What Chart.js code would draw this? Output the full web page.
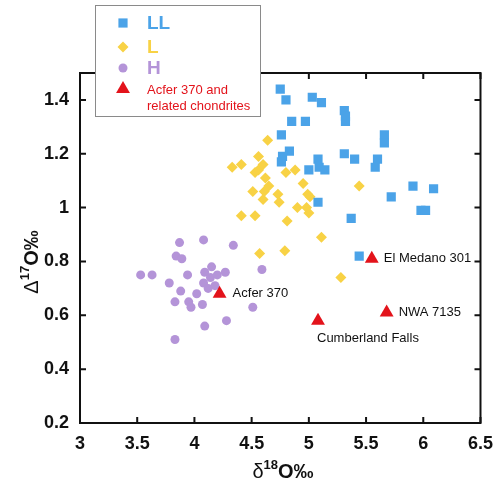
<!DOCTYPE html>
<html><head><meta charset="utf-8">
<script src="https://cdn.jsdelivr.net/npm/chart.js@4.4.0/dist/chart.umd.min.js"></script>
<style>html,body{margin:0;padding:0;background:#fff;}#wrap{width:503px;height:485px;position:relative;}</style>
</head><body><div id="wrap"><canvas id="c"></canvas></div>
<script>
// ---- data ----
const llX = [4.75,4.80,5.03,5.11,5.31,5.32,5.32,4.85,4.97,4.76,5.66,5.66,4.83,4.77,4.76,5.08,5.09,5.14,5.31,5.40,5.60,5.58,5.00,5.08,5.72,5.91,6.09,5.98,6.02,5.37,5.44];
const llY = [1.44,1.40,1.41,1.39,1.36,1.34,1.32,1.32,1.32,1.27,1.27,1.24,1.21,1.19,1.17,1.18,1.15,1.14,1.20,1.18,1.18,1.15,1.14,1.02,1.04,1.08,1.07,0.99,0.99,0.96,0.82];
const lX = [4.64,4.56,4.33,4.41,4.53,4.56,4.60,4.62,4.65,4.51,4.61,4.60,4.73,4.74,4.80,4.88,4.95,4.99,5.01,4.90,4.98,5.00,4.41,4.53,4.81,5.44,5.11,4.57,4.79,5.28];
const lY = [1.25,1.19,1.15,1.16,1.13,1.14,1.16,1.11,1.08,1.06,1.06,1.03,1.05,1.02,1.13,1.14,1.09,1.05,1.04,1.00,1.00,0.98,0.97,0.97,0.95,1.08,0.89,0.83,0.84,0.74];
const hX = [3.87,4.08,4.34,3.84,3.89,3.53,3.63,3.94,4.15,4.09,4.14,4.20,4.27,4.59,3.78,4.08,4.12,4.18,3.88,4.02,3.83,3.95,3.97,4.07,4.51,4.28,4.09,3.83];
const hY = [0.87,0.88,0.86,0.82,0.81,0.75,0.75,0.75,0.78,0.76,0.74,0.75,0.76,0.77,0.72,0.72,0.70,0.71,0.69,0.68,0.65,0.65,0.63,0.64,0.63,0.58,0.56,0.51];
const aX = [4.22,5.55,5.68,5.08];
const aY = [0.68,0.81,0.61,0.58];
const aNames = ['Acfer 370','El Medano 301','NWA 7135','Cumberland Falls'];
const seriesNames = ['LL','L','H','Acfer 370 and\nrelated chondrites'];
const xTicks = [3,3.5,4,4.5,5,5.5,6,6.5];
const xTickLabels = ['3','3.5','4','4.5','5','5.5','6','6.5'];
const yTicks = [0.2,0.4,0.6,0.8,1,1.2,1.4];
const yTickLabels = ['0.2','0.4','0.6','0.8','1','1.2','1.4'];
const xMin = 3, xMax = 6.5, yMin = 0.2, yMax = 1.5;

// ---- styles ----
const C_LL = '#4BA3E8', C_L = '#F8D245', C_H = '#B494D8', C_A = '#E3131B';
const FONT = '"Liberation Sans", Arial, sans-serif';
const pts = (xs, ys) => xs.map((x, i) => ({x: x, y: ys[i]}));

function drawMarker(ctx, style, x, y, r, color) {
  ctx.save();
  ctx.fillStyle = color;
  ctx.beginPath();
  if (style === 'rect') {
    const s = r * Math.SQRT1_2;
    ctx.rect(x - s, y - s, 2 * s, 2 * s);
  } else if (style === 'rectRot') {
    ctx.moveTo(x, y - r); ctx.lineTo(x + r, y); ctx.lineTo(x, y + r); ctx.lineTo(x - r, y); ctx.closePath();
  } else if (style === 'circle') {
    ctx.arc(x, y, r, 0, Math.PI * 2);
  } else if (style === 'triangle') {
    ctx.moveTo(x, y - r); ctx.lineTo(x + r * 0.866, y + r * 0.5); ctx.lineTo(x - r * 0.866, y + r * 0.5); ctx.closePath();
  }
  ctx.fill();
  ctx.restore();
}

function richText(ctx, segs, cx, cy) {
  let w = 0;
  segs.forEach(s => { ctx.font = s.f; s.w = ctx.measureText(s.t).width; w += s.w; });
  let x = cx - w / 2;
  ctx.textBaseline = 'alphabetic';
  ctx.textAlign = 'left';
  segs.forEach(s => { ctx.font = s.f; ctx.fillText(s.t, x, cy + (s.dy || 0)); x += s.w; });
}

const deco = {
  id: 'deco',
  afterDraw(chart) {
    const ctx = chart.ctx, a = chart.chartArea;
    const xs = chart.scales.x, ys = chart.scales.y;
    ctx.save();
    // frame
    ctx.strokeStyle = '#111'; ctx.lineWidth = 2;
    ctx.strokeRect(a.left, a.top, a.right - a.left, a.bottom - a.top);
    // inward ticks
    ctx.lineWidth = 2;
    ctx.beginPath();
    const tl = 6;
    xTicks.forEach(v => {
      const px = xs.getPixelForValue(v);
      ctx.moveTo(px, a.bottom); ctx.lineTo(px, a.bottom - tl);
      ctx.moveTo(px, a.top); ctx.lineTo(px, a.top + tl);
    });
    yTicks.forEach(v => {
      const py = ys.getPixelForValue(v);
      ctx.moveTo(a.left, py); ctx.lineTo(a.left + tl, py);
      ctx.moveTo(a.right, py); ctx.lineTo(a.right - tl, py);
    });
    ctx.stroke();

    // point labels for named chondrites
    const meta = chart.getDatasetMeta(3);
    const off = [{dx: 13, dy: 0}, {dx: 12, dy: 0}, {dx: 12, dy: 0}, {dx: -1, dy: 18}];
    ctx.fillStyle = '#111';
    ctx.font = '13px ' + FONT;
    ctx.textBaseline = 'middle'; ctx.textAlign = 'left';
    meta.data.forEach((el, i) => {
      ctx.fillText(aNames[i], el.x + off[i].dx, el.y + off[i].dy);
    });

    // axis titles
    ctx.fillStyle = '#111';
    richText(ctx, [
      {t: 'δ', f: '20px ' + FONT},
      {t: '18', f: 'bold 13px ' + FONT, dy: -9},
      {t: 'O‰', f: 'bold 20px ' + FONT}
    ], 283, 478);
    ctx.save();
    ctx.translate(30, 262);
    ctx.rotate(-Math.PI / 2);
    richText(ctx, [
      {t: 'Δ', f: '20px ' + FONT},
      {t: '17', f: 'bold 13px ' + FONT, dy: -9},
      {t: 'O‰', f: 'bold 20px ' + FONT}
    ], 0, 8);
    ctx.restore();

    // legend
    ctx.fillStyle = '#fff';
    ctx.fillRect(95, 5, 166, 112);
    ctx.strokeStyle = '#8a8a8a'; ctx.lineWidth = 1;
    ctx.strokeRect(95.5, 5.5, 165, 111);
    const lg = [
      {s: 'rect', r: 6.5, c: C_LL, y: 23, f: 'bold 19px '},
      {s: 'rectRot', r: 5.5, c: C_L, y: 47, f: 'bold 19px '},
      {s: 'circle', r: 4.5, c: C_H, y: 68, f: 'bold 19px '},
      {s: 'triangle', r: 8, c: C_A, y: 89, f: '13px '}
    ];
    lg.forEach((g, i) => {
      drawMarker(ctx, g.s, 123, g.y, g.r, g.c);
      ctx.fillStyle = g.c;
      ctx.font = g.f + FONT;
      ctx.textBaseline = 'middle'; ctx.textAlign = 'left';
      const lines = seriesNames[i].split('\n');
      lines.forEach((ln, j) => ctx.fillText(ln, 147, g.y + 1 + j * 16));
    });
    ctx.restore();
  }
};

new Chart(document.getElementById('c'), {
  type: 'scatter',
  data: {
    datasets: [
      {label: seriesNames[0], data: pts(llX, llY), pointStyle: 'rect', pointRadius: 6.5, backgroundColor: C_LL, borderWidth: 0, order: 2},
      {label: seriesNames[1], data: pts(lX, lY), pointStyle: 'rectRot', pointRadius: 5.5, backgroundColor: C_L, borderWidth: 0, order: 3},
      {label: seriesNames[2], data: pts(hX, hY), pointStyle: 'circle', pointRadius: 4.5, backgroundColor: C_H, borderWidth: 0, order: 4},
      {label: seriesNames[3], data: pts(aX, aY), pointStyle: 'triangle', pointRadius: 8, backgroundColor: C_A, borderWidth: 0, order: 1}
    ]
  },
  options: {
    responsive: true,
    maintainAspectRatio: false,
    animation: false,
    layout: {padding: {left: 0, right: 17, top: 73, bottom: 0}},
    plugins: {legend: {display: false}, tooltip: {enabled: false}},
    scales: {
      x: {
        type: 'linear', min: xMin, max: xMax,
        grid: {display: false, drawTicks: false},
        border: {display: false},
        afterBuildTicks: s => { s.ticks = xTicks.map(v => ({value: v})); },
        afterFit: s => { s.height = 62; },
        ticks: {
          padding: 10, color: '#111',
          font: {family: FONT, size: 18, weight: 'bold'},
          callback: (v) => xTickLabels[xTicks.indexOf(v)]
        }
      },
      y: {
        type: 'linear', min: yMin, max: yMax,
        grid: {display: false, drawTicks: false},
        border: {display: false},
        afterBuildTicks: s => { s.ticks = yTicks.map(v => ({value: v})); },
        afterFit: s => { s.width = 80; },
        ticks: {
          padding: 11, color: '#111',
          font: {family: FONT, size: 18, weight: 'bold'},
          callback: (v) => yTickLabels[yTicks.indexOf(v)]
        }
      }
    }
  },
  plugins: [deco]
});
</script>
</body></html>
